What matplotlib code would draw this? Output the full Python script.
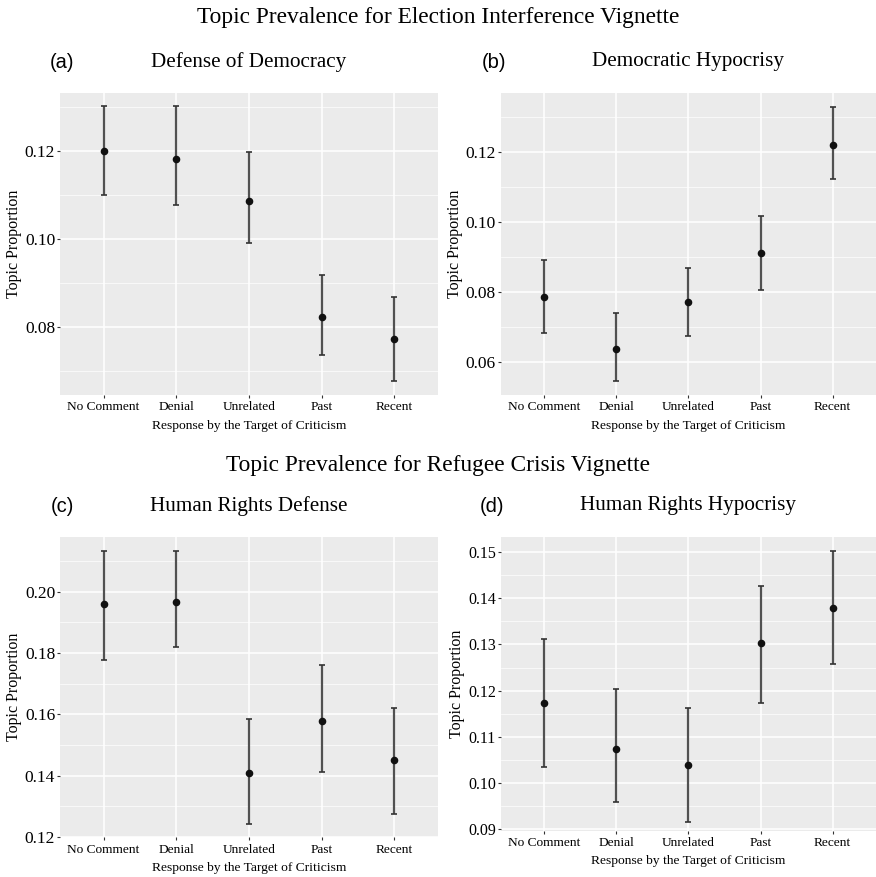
import numpy as np
import matplotlib
matplotlib.use("Agg")
import matplotlib.pyplot as plt
from matplotlib.ticker import MultipleLocator

plt.rcParams['font.family'] = ['Liberation Serif', 'DejaVu Serif']

categories = ["No Comment", "Denial", "Unrelated", "Past", "Recent"]

# (a) Defense of Democracy
a_est = [0.1201, 0.1182, 0.1087, 0.0823, 0.0773]
a_lo = [0.1100, 0.1077, 0.0990, 0.0735, 0.0677]
a_hi = [0.1302, 0.1302, 0.1198, 0.0917, 0.0868]

# (b) Democratic Hypocrisy
b_est = [0.0785, 0.0637, 0.0770, 0.0911, 0.1220]
b_lo = [0.0681, 0.0545, 0.0673, 0.0805, 0.1121]
b_hi = [0.0890, 0.0738, 0.0869, 0.1016, 0.1329]

# (c) Human Rights Defense
c_est = [0.1959, 0.1967, 0.1408, 0.1577, 0.1451]
c_lo = [0.1778, 0.1820, 0.1241, 0.1412, 0.1274]
c_hi = [0.2132, 0.2132, 0.1585, 0.1762, 0.1620]

# (d) Human Rights Hypocrisy
d_est = [0.1173, 0.1073, 0.1038, 0.1303, 0.1380]
d_lo = [0.1033, 0.0957, 0.0914, 0.1173, 0.1257]
d_hi = [0.1311, 0.1203, 0.1161, 0.1426, 0.1503]

H = 877
W = 876
panels = [
    ("(a)", "Defense of Democracy", a_est, a_lo, a_hi, (0.0645, 0.1332), 0.02,
     [0.0685, 0.5496, 0.4315, 0.3444], 62, 12.5),
    ("(b)", "Democratic Hypocrisy", b_est, b_lo, b_hi, (0.0505, 0.1368), 0.02,
     [0.5716, 0.5496, 0.4284, 0.3444], 494, 12.5),
    ("(c)", "Human Rights Defense", c_est, c_lo, c_hi, (0.1199, 0.2179), 0.02,
     [0.0685, 0.0453, 0.4315, 0.3427], 62, 12.5),
    ("(d)", "Human Rights Hypocrisy", d_est, d_lo, d_hi, (0.0896, 0.1534), 0.01,
     [0.5716, 0.0530, 0.4284, 0.3350], 492, 11.5),
]

fig = plt.figure(figsize=(8.76, 8.77), dpi=100)

fig.text(0.5, 1 - 17 / H, "Topic Prevalence for Election Interference Vignette",
         ha="center", va="center", fontsize=16.8)
fig.text(0.5, 1 - 466 / H, "Topic Prevalence for Refugee Crisis Vignette",
         ha="center", va="center", fontsize=16.8)

x = np.arange(len(categories))
for tag, title, est, lo, hi, ylim, step, rect, tag_x, ysize in panels:
    ax = fig.add_axes(rect)
    ax.set_facecolor("#EBEBEB")
    est = np.array(est)
    yerr = [est - np.array(lo), np.array(hi) - est]
    ax.errorbar(x, est, yerr=yerr, fmt="none", ecolor="#333333", alpha=0.85,
                elinewidth=1.6, capsize=2.5, capthick=1.4, zorder=3)
    ax.scatter(x, est, s=20, color="#111111", zorder=4)
    ax.set_xlim(-0.6, 4.6)
    ax.set_ylim(*ylim)
    ax.yaxis.set_major_locator(MultipleLocator(step))
    ax.yaxis.set_minor_locator(MultipleLocator(step / 2))
    ax.yaxis.set_major_formatter(lambda v, p: f"{v:.2f}")
    ax.set_xticks(x)
    ax.set_xticklabels(categories, fontsize=9.6)
    ax.tick_params(axis="y", labelsize=ysize, length=2.5, width=0.8, color="#333333", pad=1)
    ax.tick_params(axis="y", which="minor", length=0)
    ax.tick_params(axis="x", length=2.5, width=0.8, color="#333333", pad=2)
    ax.grid(True, which="major", color="white", linewidth=1.1, zorder=0)
    ax.grid(True, which="minor", axis="y", color="white", linewidth=0.5, zorder=0)
    ax.set_axisbelow(True)
    for s in ax.spines.values():
        s.set_visible(False)
    ax.set_xlabel("Response by the Target of Criticism", fontsize=9.7, labelpad=4.5)
    ax.set_ylabel("Topic Proportion", fontsize=11.5, labelpad=2)

    # panel title and letter, placed above the axes
    bbox = ax.get_position()
    ty = bbox.y1 + 31 / H
    fig.text(bbox.x0 + bbox.width * 0.5, ty, title, ha="center", va="center", fontsize=15.2)
    fig.text(tag_x / W, ty - 1 / H, tag, ha="center", va="center", fontsize=14.5,
             family=["Liberation Sans", "DejaVu Sans"])

fig.savefig("out.png", dpi=100)
